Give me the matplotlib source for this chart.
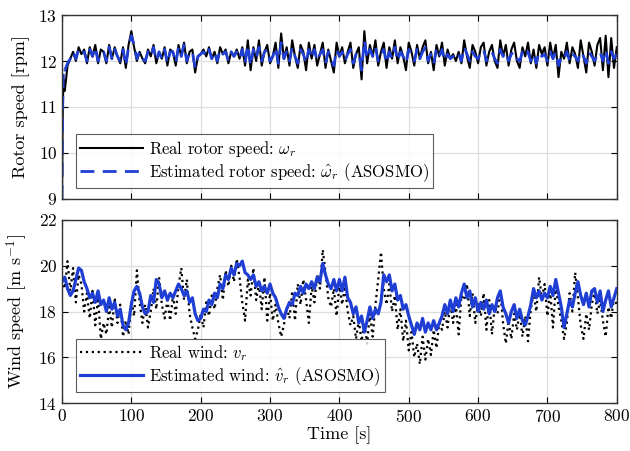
import numpy as np
import matplotlib.pyplot as plt

# 1. Data
# rotor speed [rpm], samples at t = 0,1,2,3 then every 4 s
rotor_real = [
    9.0, 10.8, 11.6, 11.5,
    11.35, 11.9, 12.05, 12.2, 12.0, 12.3, 12.15, 12.25, 11.95, 12.3,
    12.1, 12.35, 11.95, 12.25, 12.2, 11.95, 12.35, 12.05, 12.3, 12.1,
    11.95, 12.3, 11.85, 12.35, 12.65, 12.3, 12.0, 12.2, 12.05, 11.95,
    12.25, 12.1, 12.35, 11.95, 12.2, 12.05, 12.3, 11.9, 12.25, 12.2,
    11.9, 12.35, 12.1, 12.4, 11.95, 12.2, 12.25, 11.75, 12.1, 12.15,
    12.25, 12.1, 12.3, 12.05, 12.2, 11.95, 12.3, 12.15, 12.25, 11.95,
    12.2, 12.1, 12.25, 12.05, 12.3, 11.9, 12.45, 11.8, 12.3, 12.0,
    12.45, 11.9, 12.2, 12.35, 11.95, 12.1, 12.4, 11.85, 12.6, 12.05,
    12.3, 11.9, 12.45, 12.1, 11.85, 12.35, 12.2, 11.8, 12.4, 12.05,
    12.35, 11.9, 12.15, 12.4, 11.85, 12.25, 12.0, 11.75, 12.4, 12.1,
    12.3, 11.95, 12.2, 12.4, 11.85, 12.15, 12.3, 11.6, 12.65, 11.95,
    12.35, 12.1, 12.45, 11.9, 12.2, 12.4, 11.85, 12.3, 12.05, 12.45,
    11.95, 12.3, 12.1, 11.8, 12.4, 12.2, 11.9, 12.35, 12.05, 12.3,
    12.45, 11.95, 12.2, 11.8, 12.35, 12.1, 12.4, 11.9, 12.25, 12.05,
    12.15, 12.0, 12.2, 11.95, 12.45, 12.1, 11.85, 12.35, 12.2, 11.95,
    12.3, 12.4, 11.9, 12.2, 12.35, 12.0, 11.85, 12.45, 12.1, 12.35,
    11.9, 12.25, 12.4, 12.0, 11.85, 12.3, 12.1, 12.4, 11.95, 12.25,
    11.85, 12.35, 12.15, 12.3, 11.9, 12.4, 12.05, 12.35, 11.65, 12.2,
    12.05, 12.4, 11.95, 12.3, 12.15, 11.85, 12.45, 12.1, 11.75, 12.4,
    12.2, 11.9, 12.35, 12.5, 11.8, 12.55, 11.65, 12.5, 11.85, 12.3,
]
rotor_est = [
    9.0, 11.0, 11.7, 11.85,
    11.8, 11.95, 12.05, 12.2, 12.05, 12.25, 12.15, 12.2, 12.0, 12.25,
    12.1, 12.3, 12.0, 12.2, 12.2, 12.0, 12.3, 12.05, 12.25, 12.1,
    12.0, 12.25, 11.9, 12.3, 12.55, 12.35, 12.05, 12.2, 12.05, 12.0,
    12.2, 12.1, 12.3, 12.0, 12.2, 12.05, 12.25, 11.95, 12.2, 12.2,
    11.95, 12.3, 12.1, 12.35, 12.0, 12.2, 12.2, 11.85, 12.1, 12.15,
    12.2, 12.1, 12.25, 12.05, 12.2, 12.0, 12.25, 12.15, 12.2, 12.0,
    12.2, 12.1, 12.2, 12.05, 12.25, 11.95, 12.35, 11.9, 12.25, 12.05,
    12.3, 12.0, 12.2, 12.25, 12.0, 12.1, 12.3, 11.95, 12.4, 12.05,
    12.2, 12.0, 12.3, 12.1, 11.95, 12.25, 12.15, 11.95, 12.25, 12.05,
    12.25, 12.0, 12.15, 12.25, 11.95, 12.2, 12.05, 11.9, 12.25, 12.1,
    12.2, 12.0, 12.15, 12.25, 11.95, 12.15, 12.2, 11.8, 12.45, 12.05,
    12.25, 12.1, 12.3, 12.0, 12.15, 12.25, 11.95, 12.2, 12.05, 12.3,
    12.0, 12.2, 12.1, 11.95, 12.25, 12.15, 12.0, 12.25, 12.05, 12.2,
    12.3, 12.0, 12.15, 11.95, 12.25, 12.1, 12.25, 12.0, 12.15, 12.05,
    12.1, 12.05, 12.15, 12.0, 12.3, 12.15, 12.0, 12.2, 12.1, 12.05,
    12.2, 12.25, 12.0, 12.15, 12.2, 12.05, 11.95, 12.25, 12.1, 12.2,
    12.0, 12.15, 12.2, 12.05, 12.0, 12.2, 12.1, 12.2, 12.0, 12.15,
    11.95, 12.2, 12.1, 12.15, 12.0, 12.2, 12.05, 12.2, 11.9, 12.1,
    12.05, 12.2, 12.0, 12.15, 12.1, 12.0, 12.2, 12.1, 11.95, 12.2,
    12.1, 12.0, 12.15, 12.2, 12.0, 12.25, 11.95, 12.2, 12.05, 12.15,
]

# wind speed [m/s], one sample every 4 s from 0 to 800 s
wind_real = [
    19.4, 19.0, 20.2, 18.9, 19.9, 18.4, 19.6, 19.2, 18.0, 18.8,
    17.7, 18.9, 17.4, 18.6, 16.8, 17.5, 17.0, 18.2, 17.3, 18.6,
    17.5, 18.3, 16.9, 17.6, 17.0, 18.5, 17.8, 19.8, 18.4, 17.5,
    18.3, 17.3, 18.0, 19.0, 18.1, 19.5, 18.3, 17.7, 18.5, 17.6,
    18.7, 17.9, 19.1, 19.9, 18.5, 19.4, 17.9, 17.3, 16.8, 17.2,
    17.9, 17.3, 18.4, 17.8, 18.7, 18.1, 19.0, 19.6, 18.5, 19.8,
    19.1, 20.0, 19.3, 20.3, 19.5, 18.4, 17.6, 19.4, 18.7, 19.9,
    18.5, 19.2, 18.1, 19.5, 17.6, 18.8, 17.6, 18.3, 17.5, 16.9,
    17.4, 18.2, 17.7, 18.9, 17.6, 19.2, 18.3, 19.4, 18.5, 17.5,
    19.1, 18.4, 19.6, 19.0, 20.7, 19.7, 18.6, 18.2, 19.0, 17.8,
    19.2, 18.3, 19.1, 18.0, 17.4, 17.8, 16.8, 17.6, 16.7, 17.5,
    16.6, 17.9, 16.9, 18.3, 19.4, 20.6, 19.0, 18.3, 19.2, 18.0,
    18.7, 17.2, 18.1, 16.7, 17.6, 16.3, 17.1, 16.0, 16.6, 15.7,
    16.9, 15.9, 16.8, 16.1, 17.2, 16.4, 17.5, 17.2, 18.0, 17.3,
    18.4, 17.5, 18.3, 17.0, 18.7, 18.5, 19.2, 17.8, 18.8, 17.5,
    18.4, 17.8, 18.8, 17.2, 18.5, 17.0, 18.2, 17.9, 18.9, 17.5,
    16.6, 17.6, 16.8, 17.9, 17.2, 18.0, 16.9, 17.8, 16.7, 18.1,
    18.8, 18.0, 19.5, 18.6, 19.2, 17.8, 18.9, 17.3, 19.1, 18.2,
    17.6, 16.8, 17.5, 18.8, 18.0, 19.7, 18.6, 17.4, 16.8, 17.9,
    17.2, 18.3, 18.9, 17.9, 18.5, 17.6, 16.9, 18.2, 17.7, 18.6,
    18.3,
]
wind_est = [
    19.3, 19.5, 19.0, 18.7, 18.9, 19.4, 19.9, 19.8, 19.3, 19.0,
    18.6, 18.8, 18.4, 18.9, 18.3, 18.5, 18.0, 18.6, 18.1, 18.4,
    17.8, 18.1, 17.4, 17.2, 17.5, 18.3, 18.9, 19.1, 18.8, 18.2,
    17.9, 18.0, 18.7, 18.4, 19.4, 19.2, 18.6, 18.9, 18.5, 18.8,
    18.6, 18.9, 19.2, 19.0, 18.7, 18.9, 18.4, 18.6, 17.9, 17.6,
    17.7, 18.1, 18.0, 18.5, 18.3, 18.8, 18.6, 19.2, 19.0, 19.6,
    19.4, 19.9, 19.6, 20.1, 20.0, 20.2, 19.7, 19.6, 19.4, 19.6,
    19.1, 19.3, 18.9, 19.1, 18.8, 19.2, 18.8, 18.6, 18.2, 17.9,
    17.7, 18.1, 18.4, 18.3, 18.8, 18.7, 19.1, 18.8, 19.2, 19.0,
    19.3, 19.0, 19.5, 19.3, 20.1, 19.6, 19.2, 19.0, 19.4, 18.9,
    19.4, 18.9, 19.5, 18.6, 18.4, 17.9, 18.2, 17.5, 17.8, 17.1,
    17.6, 18.2, 17.7, 18.1, 17.9, 18.4, 19.6, 19.3, 19.6, 18.9,
    19.2, 18.5, 18.7, 18.1, 18.3, 17.8, 17.4, 17.0, 17.5, 17.2,
    17.7, 17.1, 17.5, 17.2, 17.6, 17.2, 17.5, 17.8, 18.3, 17.9,
    18.5, 18.0, 18.6, 18.2, 18.8, 19.2, 18.6, 18.9, 18.2, 18.6,
    18.0, 18.4, 18.1, 18.5, 17.9, 18.3, 18.0, 18.6, 18.9, 18.2,
    17.9, 17.5, 18.0, 18.3, 17.7, 18.1, 17.6, 17.4, 17.8, 18.3,
    19.0, 18.6, 18.9, 18.5, 18.8, 18.6, 19.1, 18.7, 19.4, 18.8,
    18.2, 17.3, 17.9, 18.5, 18.2, 18.8, 19.3, 18.7, 18.3, 18.8,
    18.2, 18.9, 19.0, 18.4, 18.9, 18.0, 18.5, 18.9, 18.2, 18.6,
    19.0,
]

t_rotor = np.concatenate([[0, 1, 2, 3], 4 + 4 * np.arange(len(rotor_real) - 4)])
t_wind = 4 * np.arange(len(wind_real))

# 2. Style (LaTeX-like serif text)
plt.rcParams['font.family'] = 'cmr10'
plt.rcParams['mathtext.fontset'] = 'cm'
plt.rcParams['axes.formatter.use_mathtext'] = True
plt.rcParams['font.size'] = 13

blue = '#1f3fd4'

fig = plt.figure(figsize=(6.3, 4.51), dpi=100)
ax1 = fig.add_axes([0.0984, 0.5588, 0.8806, 0.4079])
ax2 = fig.add_axes([0.0984, 0.1064, 0.8806, 0.4058])

# --- Rotor speed ---
ax1.plot(t_rotor, rotor_real, color='black', lw=1.5, label=r'Real rotor speed: $\omega_r$')
ax1.plot(t_rotor, rotor_est, color=blue, lw=2.0, ls=(0, (5, 3)),
         label=r'Estimated rotor speed: $\hat{\omega}_r$ (ASOSMO)')
ax1.set_xlim(0, 800)
ax1.set_ylim(9, 13)
ax1.set_yticks([9, 10, 11, 12, 13])
ax1.set_xticks(range(0, 801, 100))
ax1.set_xticklabels([])
ax1.set_ylabel('Rotor speed [rpm]', labelpad=6)

# --- Wind speed ---
ax2.plot(t_wind, wind_real, color='black', lw=1.6, ls=':', label=r'Real wind: $v_r$')
ax2.plot(t_wind, wind_est, color=blue, lw=2.3, label=r'Estimated wind: $\hat{v}_r$ (ASOSMO)')
ax2.set_xlim(0, 800)
ax2.set_ylim(14, 22)
ax2.set_yticks([14, 16, 18, 20, 22])
ax2.set_xticks(range(0, 801, 100))
ax2.set_xlabel('Time [s]', labelpad=1)
ax2.set_ylabel(r'Wind speed [m s$^{-1}$]', labelpad=6)

for ax in (ax1, ax2):
    ax.grid(True, color='#dddddd', lw=0.9)
    ax.set_axisbelow(True)
    ax.tick_params(direction='in', top=True, right=True, length=4, labelsize=12.5)
    for s in ax.spines.values():
        s.set_color('#333333')
        s.set_linewidth(1.0)
    leg = ax.legend(loc='lower left', bbox_to_anchor=(0.025, 0.06), fontsize=12,
                    frameon=True, fancybox=False, edgecolor='#333333',
                    borderpad=0.25, labelspacing=0.15, handlelength=3.8,
                    handletextpad=0.35, borderaxespad=0)
    leg.get_frame().set_linewidth(0.8)

plt.savefig('out.png', dpi=100)
